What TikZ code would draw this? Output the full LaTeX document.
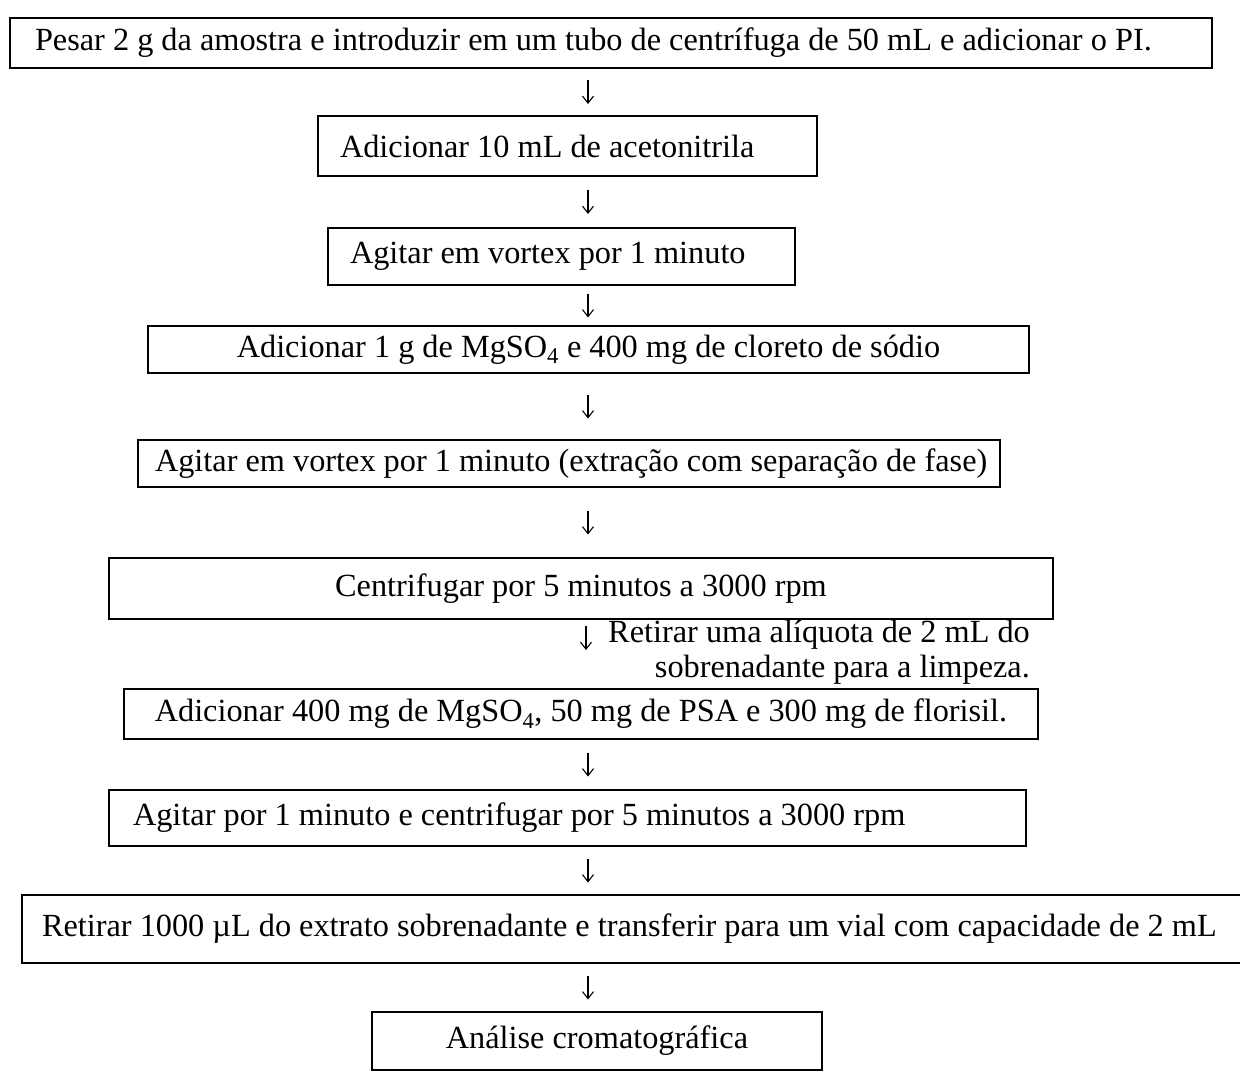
\documentclass[tikz,border=0pt]{standalone}
\usepackage{fontspec}
\setmainfont{Liberation Serif}
\usetikzlibrary{calc,arrows.meta}
\newcommand{\myleft}[2]{\makebox[#1][l]{#2}}
\begin{document}
\begin{tikzpicture}[x=1pt,y=-1pt,
  every node/.style={font=\fontsize{32.3}{35}\selectfont},
  stepbox/.style={draw, line width=1.4pt, anchor=north west, inner ysep=0pt, outer sep=0pt},
  darr/.style={line width=1.1pt, -{Straight Barb[length=7pt,width=11pt,line width=1.1pt]}}]
\useasboundingbox (0,0) rectangle (1240,1090);
\coordinate (ax) at (588,0);
% boxes
\node[stepbox, minimum width=1202pt, minimum height=50pt, inner xsep=25pt] (b1) at (10,18)
  {\myleft{1152pt}{Pesar 2 g da amostra e introduzir em um tubo de centrífuga de 50 mL e adicionar o PI.}};
\node[stepbox, minimum width=499pt, minimum height=60pt, inner xsep=22pt] (b2) at (318,116)
  {\myleft{455pt}{Adicionar 10 mL de acetonitrila}};
\node[stepbox, minimum width=467pt, minimum height=57pt, inner xsep=22pt] (b3) at (328,228)
  {\myleft{423pt}{Agitar em vortex por 1 minuto}};
\node[stepbox, minimum width=881pt, minimum height=47pt, inner xsep=10pt] (b4) at (148,326)
  {Adicionar 1 g de MgSO\textsubscript{4} e 400 mg de cloreto de sódio};
\node[stepbox, minimum width=862pt, minimum height=47pt, inner xsep=17pt] (b5) at (138,440)
  {\myleft{828pt}{Agitar em vortex por 1 minuto (extração com separação de fase)}};
\node[stepbox, minimum width=944pt, minimum height=61pt, inner xsep=10pt] (b6) at (109,558)
  {Centrifugar por 5 minutos a 3000 rpm};
\node[stepbox, minimum width=914pt, minimum height=50pt, inner xsep=10pt] (b7) at (124,689)
  {Adicionar 400 mg de MgSO\textsubscript{4}, 50 mg de PSA e 300 mg de florisil.};
\node[stepbox, minimum width=917pt, minimum height=56pt, inner xsep=24pt] (b8) at (109,790)
  {\myleft{869pt}{Agitar por 1 minuto e centrifugar por 5 minutos a 3000 rpm}};
\node[stepbox, minimum width=1260pt, minimum height=68pt, inner xsep=20pt] (b9) at (22,895)
  {\myleft{1220pt}{Retirar 1000 µL do extrato sobrenadante e transferir para um vial com capacidade de 2 mL}};
\node[stepbox, minimum width=450pt, minimum height=58pt, inner xsep=10pt] (b10) at (372,1012)
  {Análise cromatográfica};
% arrow end points
\coordinate (s1) at ($(ax |- b1.south)!0.5!(ax |- b2.north)+(0,-12)$);
\coordinate (e1) at ($(s1)+(0,24)$);
\coordinate (s2) at ($(ax |- b2.south)!0.5!(ax |- b3.north)+(0,-12)$);
\coordinate (e2) at ($(s2)+(0,24)$);
\coordinate (s3) at ($(ax |- b3.south)!0.5!(ax |- b4.north)+(0,-12)$);
\coordinate (e3) at ($(s3)+(0,24)$);
\coordinate (s4) at ($(ax |- b4.south)!0.5!(ax |- b5.north)+(0,-12)$);
\coordinate (e4) at ($(s4)+(0,24)$);
\coordinate (s5) at ($(ax |- b5.south)!0.5!(ax |- b6.north)+(0,-12)$);
\coordinate (e5) at ($(s5)+(0,24)$);
\coordinate (s6) at (586,626);
\coordinate (e6) at (586,650);
\coordinate (s7) at ($(ax |- b7.south)!0.5!(ax |- b8.north)+(0,-12)$);
\coordinate (e7) at ($(s7)+(0,24)$);
\coordinate (s8) at ($(ax |- b8.south)!0.5!(ax |- b9.north)+(0,-12)$);
\coordinate (e8) at ($(s8)+(0,24)$);
\coordinate (s9) at ($(ax |- b9.south)!0.5!(ax |- b10.north)+(0,-12)$);
\coordinate (e9) at ($(s9)+(0,24)$);
\foreach \i in {1,...,9} \draw[darr] (s\i) -- (e\i);
% side note
\node[align=right, anchor=east, inner sep=0pt] (note) at (1030,652)
  {Retirar uma alíquota de 2 mL do\\sobrenadante para a limpeza.};
\end{tikzpicture}
\end{document}
